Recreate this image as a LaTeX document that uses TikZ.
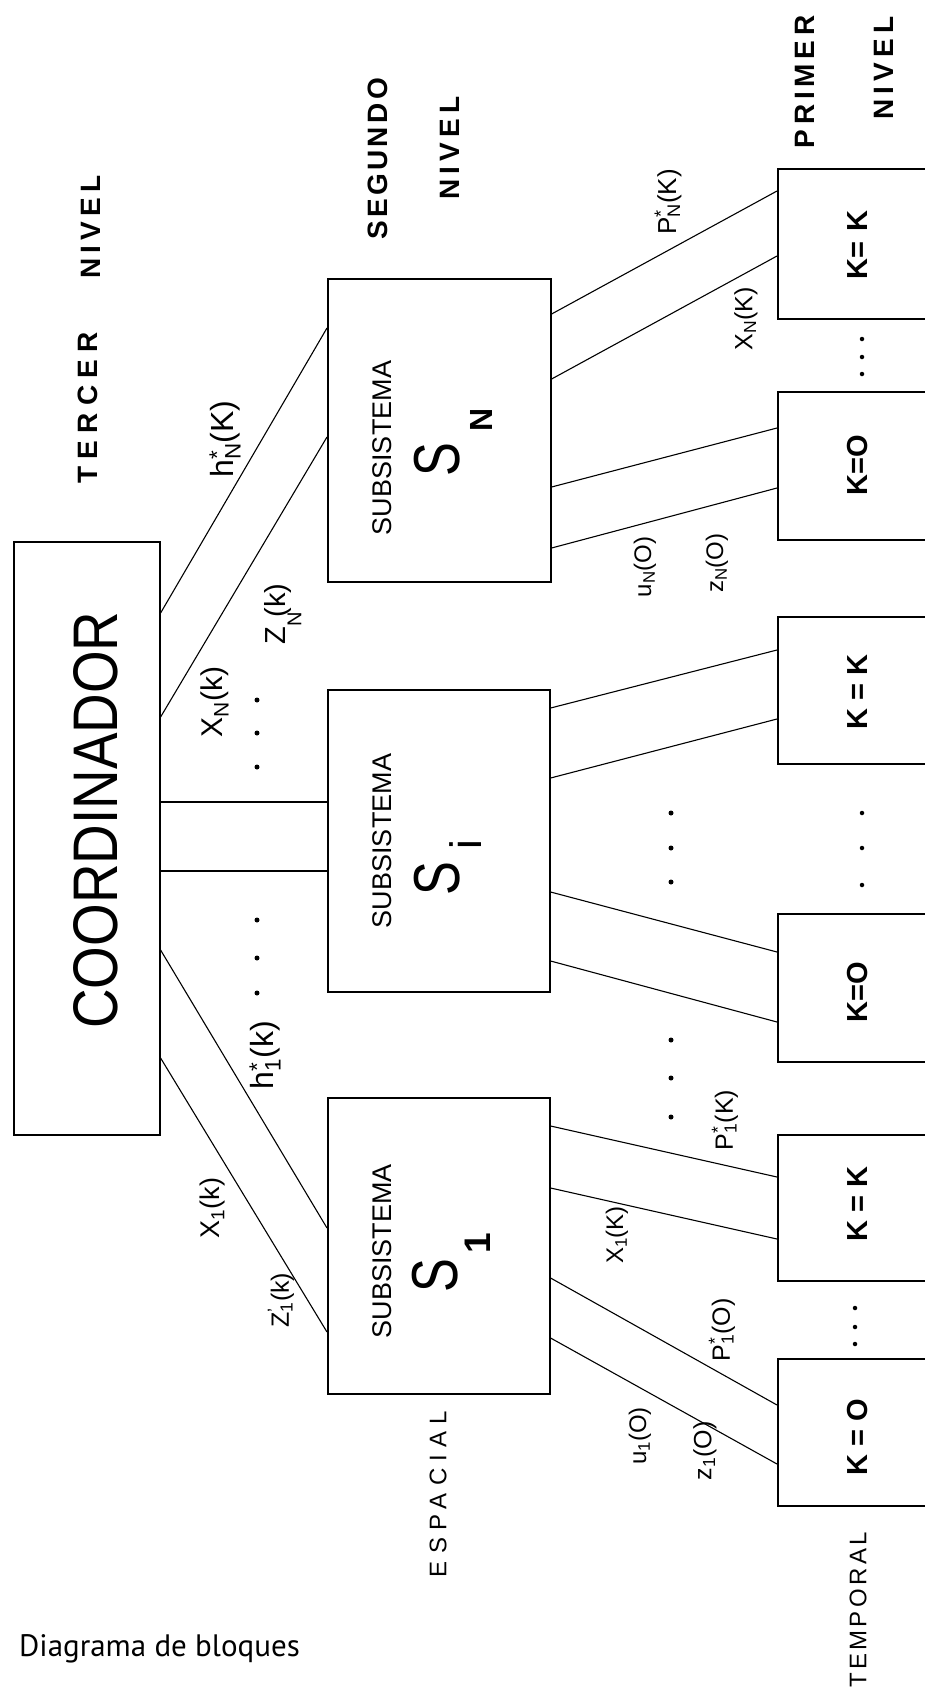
\documentclass[tikz,border=0pt]{standalone}
\usepackage{fontspec}
\setmainfont{Liberation Sans}
\newfontfamily\captfont{PT Sans}
\usetikzlibrary{calc}
\newcommand\lbl[4]{#1\rlap{\textsuperscript{#2}}\textsubscript{#3}#4}
\newcommand\fs[1]{\fontsize{#1}{#1}\selectfont}
\begin{document}
\begin{tikzpicture}[x=1pt,y=-1pt,
 box/.style={draw,line width=1.6pt,inner sep=0pt,anchor=north west},
 conn/.style={line width=1.1pt},
 rot/.style={rotate=90,inner sep=0pt,anchor=center},
 lvl/.style={rot,font=\fs{28}\bfseries\addfontfeature{LetterSpace=18}},
 subs/.style={rot,font=\fs{27}},
 lab/.style={rot,font=\fs{27}},
 kt/.style={rot,font=\fs{29}\bfseries},
 bigs/.style={rot,font=\fs{65}},
 dot/.style={circle,fill,inner sep=0pt,minimum size=5pt}]
\useasboundingbox (0,0) rectangle (925,1687);
\clip (0,0) rectangle (925,1687);
\fill[white] (0,0) rectangle (925,1687);

% boxes
\node[box,minimum width=146pt,minimum height=593pt] (C) at (13,541) {};
\node[box,minimum width=223pt,minimum height=303pt] (SN) at (327,278) {};
\node[box,minimum width=222pt,minimum height=302pt] (Si) at (327,689) {};
\node[box,minimum width=222pt,minimum height=296pt] (S1) at (327,1097) {};
\node[box,minimum width=175pt,minimum height=150pt] (KNK) at (777,168) {};
\node[box,minimum width=175pt,minimum height=148pt] (KN0) at (777,391) {};
\node[box,minimum width=175pt,minimum height=147pt] (KiK) at (777,616) {};
\node[box,minimum width=175pt,minimum height=148pt] (Ki0) at (777,913) {};
\node[box,minimum width=175pt,minimum height=146pt] (K1K) at (777,1134) {};
\node[box,minimum width=175pt,minimum height=147pt] (K10) at (777,1358) {};

% coordinator connectors
\draw[conn] ([yshift=-72pt]C.north east) -- ([yshift=-50pt]SN.north west);
\draw[conn] ([yshift=-176pt]C.north east) -- ([yshift=-159pt]SN.north west);
\draw[conn] ([yshift=-261pt]C.north east) -- ([yshift=-113pt]Si.north west);
\draw[conn] ([yshift=-330pt]C.north east) -- ([yshift=-182pt]Si.north west);
\draw[conn] ([yshift=-409pt]C.north east) -- ([yshift=-131pt]S1.north west);
\draw[conn] ([yshift=-517pt]C.north east) -- ([yshift=-235pt]S1.north west);

% subsystem N
\draw[conn] ([yshift=-36pt]SN.north east) -- ([yshift=-23pt]KNK.north west);
\draw[conn] ([yshift=-101pt]SN.north east) -- ([yshift=-88pt]KNK.north west);
\draw[conn] ([yshift=-209pt]SN.north east) -- ([yshift=-37pt]KN0.north west);
\draw[conn] ([yshift=-270pt]SN.north east) -- ([yshift=-97pt]KN0.north west);
% subsystem i
\draw[conn] ([yshift=-19pt]Si.north east) -- ([yshift=-34pt]KiK.north west);
\draw[conn] ([yshift=-89pt]Si.north east) -- ([yshift=-103pt]KiK.north west);
\draw[conn] ([yshift=-203pt]Si.north east) -- ([yshift=-39pt]Ki0.north west);
\draw[conn] ([yshift=-272pt]Si.north east) -- ([yshift=-109pt]Ki0.north west);
% subsystem 1
\draw[conn] ([yshift=-29pt]S1.north east) -- ([yshift=-43pt]K1K.north west);
\draw[conn] ([yshift=-91pt]S1.north east) -- ([yshift=-105pt]K1K.north west);
\draw[conn] ([yshift=-181pt]S1.north east) -- ([yshift=-47pt]K10.north west);
\draw[conn] ([yshift=-241pt]S1.north east) -- ([yshift=-106pt]K10.north west);

% level titles
\node[lvl,font=\fs{28}\bfseries\addfontfeature{LetterSpace=26}] (t3a) at (88,408) {TERCER};
\node[lvl] (t3b) at (91,227) {NIVEL};
\node[lvl,font=\fs{28}\bfseries\addfontfeature{LetterSpace=12}] (t2a) at (378,159) {SEGUNDO};
\node[lvl] (t2b) at (450,148) {NIVEL};
\node[lvl,font=\fs{28}\bfseries\addfontfeature{LetterSpace=17}] (t1a) at (805,82) {PRIMER};
\node[lvl] (t1b) at (884,68) {NIVEL};

% coordinator text
\node[rot,font=\fs{63}] (ct) at (96,820) {\scalebox{0.87}[1]{COORDINADOR}};

% subsystem texts
\node[subs] (sNt) at (382,448) {SUBSISTEMA};
\node[subs] (sit) at (382,841) {SUBSISTEMA};
\node[subs] (s1t) at (382,1251) {SUBSISTEMA};
\node[bigs] (sNS) at (437,460) {\scalebox{0.78}[1]{S}};
\node[bigs] (siS) at (437,879) {\scalebox{0.78}[1]{S}};
\node[bigs] (s1S) at (435,1276) {\scalebox{0.78}[1]{S}};
\node[rot,font=\fs{32}\bfseries] (sNsub) at (481,420) {N};
\node[rot,font=\fs{44}] (sisub) at (466,845) {i};
\node[rot,font=\fs{37}\bfseries] (s1sub) at (478,1243) {1};

% K box texts
\node[kt] (kNKt) at (858,245) {K=\,\,K};
\node[kt] (kN0t) at (858,465) {K=O};
\node[kt] (kiKt) at (858,692) {K = K};
\node[kt] (ki0t) at (858,992) {K=O};
\node[kt] (k1Kt) at (858,1204) {K = K};
\node[kt] (k10t) at (858,1437) {K = O};

% connector labels
\node[lab,font=\fs{32}] (lhN) at (225,439) {\lbl{h}{*}{N}{(K)}};
\node[lab,font=\fs{30}] (lxN) at (215,702) {\lbl{X}{}{N}{(k)}};
\node[lab,font=\fs{29}] (lzN) at (283,614) {Z\rlap{\raisebox{-0.55em}{\fs{20}N}}\,\,(k)};
\node[lab,font=\fs{32}] (lh1) at (265,1055) {\lbl{h}{*}{1}{(k)}};
\node[lab,font=\fs{27}] (lx1) at (213,1208) {\lbl{X}{}{1}{(k)}};
\node[lab,font=\fs{25}] (lz1) at (281,1300) {\lbl{Z}{\textquoteright}{1}{(k)}};
\node[lab,font=\fs{26}] (lpNK) at (668,202) {\lbl{P}{*}{N}{(K)}};
\node[lab,font=\fs{25}] (lxNK) at (746,319) {\lbl{X}{}{N}{(K)}};
\node[lab,font=\fs{24}] (luN) at (645,567) {\lbl{u}{}{N}{(O)}};
\node[lab,font=\fs{24}] (lzN0) at (717,563) {\lbl{z}{}{N}{(O)}};
\node[lab,font=\fs{25}] (lp1K) at (725,1120) {\lbl{P}{*}{1}{(K)}};
\node[lab,font=\fs{24}] (lx1K) at (617,1235) {\lbl{X}{}{1}{(K)}};
\node[lab,font=\fs{25}] (lp10) at (722,1330) {\lbl{P}{*}{1}{(O)}};
\node[lab,font=\fs{24}] (lu1) at (640,1436) {\lbl{u}{}{1}{(O)}};
\node[lab,font=\fs{25}] (lz10) at (705,1451) {\lbl{z}{}{1}{(O)}};

% axis words
\node[rot,font=\fs{24}\addfontfeature{LetterSpace=30}] (esp) at (438,1494) {ESPACIAL};
\node[rot,font=\fs{24}\addfontfeature{LetterSpace=14}] (tem) at (858,1610) {TEMPORAL};

% dots
\foreach \y [count=\n] in {700,733,767,920,958,993} \node[dot] (dc\n) at (257,\y) {};
\foreach \y [count=\n] in {813,848,882,1040,1078,1117} \node[dot] (dm\n) at (671,\y) {};
\foreach \y [count=\n] in {339,357,374,813,848,885} \node[dot,minimum size=4.5pt] (dk\n) at (862,\y) {};
\foreach \y [count=\n] in {1308,1327,1344} \node[dot,minimum size=4.5pt] (dl\n) at (855,\y) {};

% caption
\node[font=\captfont\fs{31},anchor=base west,inner sep=0pt] (cap) at (19,1656) {Diagrama de bloques};
\end{tikzpicture}
\end{document}
